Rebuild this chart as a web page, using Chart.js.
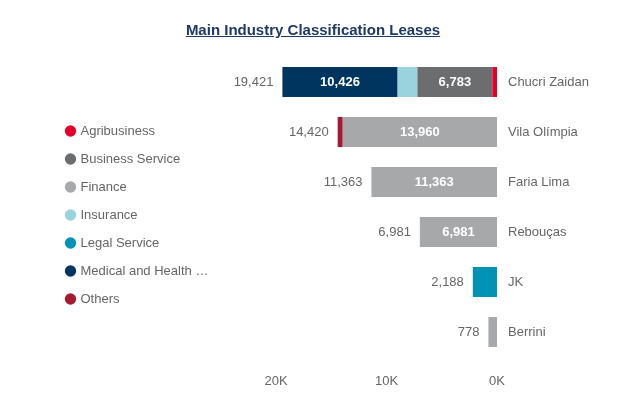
<!DOCTYPE html>
<html>
<head>
<meta charset="utf-8">
<script src="https://cdn.jsdelivr.net/npm/chart.js@4.4.1/dist/chart.umd.min.js"></script>
<style>
    html, body { margin: 0; padding: 0; background: #ffffff; }
    #quadro { position: relative; width: 642px; height: 404px; }
    #titulo {
        position: absolute; left: 0; top: 21px; width: 626px;
        text-align: center; line-height: 18px;
        font: bold 15px "Liberation Sans", Arial, sans-serif;
        color: #1f3864; text-decoration: underline;
    }
    #grafico { display: block; }
</style>
</head>
<body>
<div id="quadro">
    <div id="titulo">Main Industry Classification Leases</div>
    <canvas id="grafico" width="642" height="404"></canvas>
</div>
<script>
const regioes = ["Chucri Zaidan", "Vila Olímpia", "Faria Lima", "Rebouças", "JK", "Berrini"];

const setores = ["Agribusiness", "Business Service", "Finance", "Insurance", "Legal Service", "Medical and Health Care", "Others"];
const cores = ["#e4002b", "#6b6d6e", "#a7a8aa", "#9ad3de", "#0093b5", "#00355f", "#a6192e"];

const agribusiness = [420, 0, 0, 0, 0, 0];
const businessService = [6783, 0, 0, 0, 0, 0];
const finance = [0, 13960, 11363, 6981, 0, 778];
const insurance = [1792, 0, 0, 0, 0, 0];
const legalService = [0, 0, 0, 0, 2188, 0];
const medical = [10426, 0, 0, 0, 0, 0];
const others = [0, 460, 0, 0, 0, 0];

const ticksX = [0, 10000, 20000];

const series = [agribusiness, businessService, finance, insurance, legalService, medical, others];
const totais = regioes.map((_, j) => series.reduce((soma, s) => soma + s[j], 0));

const fonte = "'Liberation Sans', Arial, sans-serif";
Chart.defaults.font.family = fonte;
Chart.defaults.font.size = 13;
Chart.defaults.color = "#666666";

function formatar(n) {
    return String(n).replace(/\B(?=(\d{3})+(?!\d))/g, ",");
}

// largura fixa da legenda e um pequeno ajuste vertical
const posicaoLegenda = {
    id: "posicaoLegenda",
    afterInit(chart) {
        const legenda = chart.legend;
        const fitOriginal = legenda.fit.bind(legenda);
        legenda.fit = () => {
            fitOriginal();
            legenda.width = 224;
        };
    },
    afterLayout(chart) {
        chart.legend.top += 8;
        chart.legend.bottom += 8;
    }
};

const rotulos = {
    id: "rotulos",
    afterDatasetsDraw(chart) {
        const ctx = chart.ctx;
        const escalaX = chart.scales.x;
        ctx.save();
        ctx.textBaseline = "middle";

        ctx.font = "bold 13px " + fonte;
        ctx.fillStyle = "#ffffff";
        ctx.textAlign = "center";
        chart.data.datasets.forEach((ds, i) => {
            chart.getDatasetMeta(i).data.forEach((barra, j) => {
                const valor = ds.data[j];
                if (!valor || Math.abs(barra.x - barra.base) < 50) return;
                ctx.fillText(formatar(valor), (barra.x + barra.base) / 2, barra.y);
            });
        });

        ctx.font = "13px " + fonte;
        ctx.fillStyle = "#666666";
        ctx.textAlign = "right";
        const meta = chart.getDatasetMeta(0);
        totais.forEach((total, j) => {
            const x = escalaX.getPixelForValue(total);
            ctx.fillText(formatar(total), x - 9, meta.data[j].y);
        });
        ctx.restore();
    }
};

new Chart(document.getElementById("grafico"), {
    type: "bar",
    data: {
        labels: regioes,
        datasets: setores.map((nome, i) => ({
            label: nome,
            data: series[i],
            backgroundColor: cores[i],
            borderWidth: 0,
            categoryPercentage: 1,
            barPercentage: 0.6
        }))
    },
    options: {
        indexAxis: "y",
        responsive: false,
        animation: false,
        layout: {
            padding: { left: 52, top: 57, right: 0, bottom: 0 }
        },
        scales: {
            x: {
                stacked: true,
                reverse: true,
                min: 0,
                max: 20000,
                afterBuildTicks: (escala) => {
                    escala.ticks = ticksX.map((v) => ({ value: v }));
                },
                afterFit: (escala) => {
                    escala.height = 47;
                },
                ticks: {
                    padding: 17,
                    maxRotation: 0,
                    callback: (v) => v / 1000 + "K"
                },
                grid: { display: false, drawTicks: false },
                border: { display: false }
            },
            y: {
                stacked: true,
                position: "right",
                afterFit: (escala) => {
                    escala.width = 145;
                },
                ticks: { padding: 11 },
                grid: { display: false, drawTicks: false },
                border: { display: false }
            }
        },
        plugins: {
            legend: {
                position: "left",
                fullSize: false,
                labels: {
                    usePointStyle: true,
                    pointStyle: "circle",
                    boxWidth: 7,
                    boxHeight: 8,
                    padding: 15,
                    color: "#666666",
                    font: { size: 13 },
                    generateLabels: (chart) => {
                        const itens = Chart.defaults.plugins.legend.labels.generateLabels(chart);
                        itens.forEach((item) => {
                            if (item.text.length > 19) item.text = item.text.slice(0, 19) + "…";
                        });
                        return itens;
                    }
                }
            },
            tooltip: { enabled: false }
        }
    },
    plugins: [posicaoLegenda, rotulos]
});
</script>
</body>
</html>
